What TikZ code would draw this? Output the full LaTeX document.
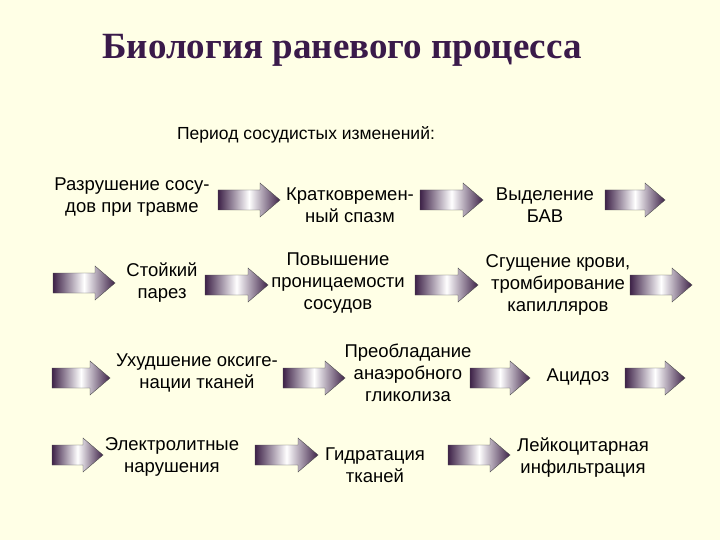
\documentclass[tikz,border=0pt]{standalone}
\usepackage{fontspec}
\setmainfont{Liberation Sans}
\newfontfamily\titlefont{Liberation Serif}
\definecolor{bg}{HTML}{FFFFE6}
\definecolor{dp}{HTML}{3E2248}
\definecolor{tt}{HTML}{3A1A4A}
\tikzset{
  lbl/.style={align=center,font=\fontsize{18.5}{22}\selectfont,inner sep=0pt},
  arr/.style={left color=dp,right color=dp,middle color=white,draw=black!70,line width=0.4pt}
}
\newcommand\garrow[3]{%
  \path[arr] (#1,#3-10) -- (#2-20,#3-10) -- (#2-20,#3-17) -- (#2,#3) -- (#2-20,#3+17) -- (#2-20,#3+10) -- (#1,#3+10) -- cycle;}
\begin{document}
\begin{tikzpicture}[x=1pt,y=-1pt]
\path[fill=bg] (0,0) rectangle (720,540);
\node[font=\titlefont\bfseries\fontsize{37}{40}\selectfont,text=tt] (title) at (342,50) {Биология раневого процесса};
\node[lbl,font=\fontsize{17.5}{20}\selectfont] (period) at (306,135) {Период сосудистых изменений:};
\node[lbl] (t1) at (132,197) {Разрушение сосу-\\дов при травме};
\node[lbl] (t2) at (350,205) {Кратковремен-\\ный спазм};
\node[lbl] (t3) at (545,205) {Выделение\\БАВ};
\node[lbl] (t4) at (162,283) {Стойкий\\парез};
\node[lbl] (t5) at (338,283) {Повышение\\проницаемости\\сосудов};
\node[lbl] (t6) at (558,285) {Сгущение крови,\\тромбирование\\капилляров};
\node[lbl] (t7) at (197,373) {Ухудшение оксиге-\\нации тканей};
\node[lbl] (t8) at (408,373) {Преобладание\\анаэробного\\гликолиза};
\node[lbl] (t9) at (578,377) {Ацидоз};
\node[lbl] (t10) at (172,457) {Электролитные\\нарушения};
\node[lbl] (t11) at (375,465) {Гидратация\\тканей};
\node[lbl] (t12) at (583,458) {Лейкоцитарная\\инфильтрация};
\garrow{218}{280}{200}
\garrow{420}{483}{200}
\garrow{605}{665}{200}
\garrow{53}{115}{283}
\garrow{205}{268}{285}
\garrow{415}{478}{285}
\garrow{630}{692}{285}
\garrow{52}{110}{378}
\garrow{283}{345}{378}
\garrow{470}{530}{378}
\garrow{625}{685}{378}
\garrow{52}{103}{455}
\garrow{255}{318}{455}
\garrow{448}{510}{455}
\end{tikzpicture}
\end{document}
